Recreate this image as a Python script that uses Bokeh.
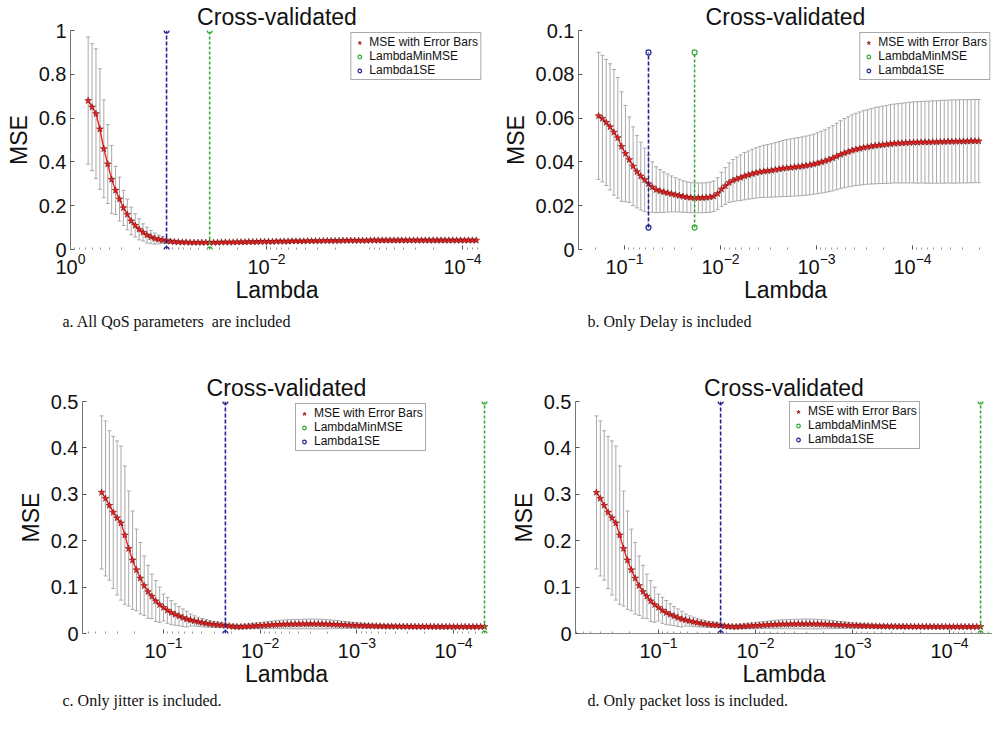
import numpy as np
from bokeh.plotting import figure
from bokeh.models import (Range1d, FixedTicker, CustomJSTickFormatter, Legend,
                          LegendItem, Title)
from bokeh.layouts import column, row
from bokeh.embed import file_html
from bokeh.resources import INLINE

SANS = "Liberation Sans"
SERIF = "Liberation Serif"

# ---------------------------------------------------------------- data
# log10(Lambda) grids of the four lasso fits
log_lam_all = [
    -0.18, -0.22, -0.26, -0.30, -0.34, -0.38, -0.42, -0.46, -0.50, -0.54,
    -0.58, -0.62, -0.66, -0.70, -0.74, -0.78, -0.82, -0.86, -0.90, -0.94,
    -0.98, -1.02, -1.06, -1.10, -1.14, -1.18, -1.22, -1.26, -1.30, -1.34,
    -1.38, -1.42, -1.46, -1.50, -1.54, -1.58, -1.62, -1.66, -1.70, -1.74,
    -1.78, -1.82, -1.86, -1.90, -1.94, -1.98, -2.02, -2.06, -2.10, -2.14,
    -2.18, -2.22, -2.26, -2.30, -2.34, -2.38, -2.42, -2.46, -2.50, -2.54,
    -2.58, -2.62, -2.66, -2.70, -2.74, -2.78, -2.82, -2.86, -2.90, -2.94,
    -2.98, -3.02, -3.06, -3.10, -3.14, -3.18, -3.22, -3.26, -3.30, -3.34,
    -3.38, -3.42, -3.46, -3.50, -3.54, -3.58, -3.62, -3.66, -3.70, -3.74,
    -3.78, -3.82, -3.86, -3.90, -3.94, -3.98, -4.02, -4.06, -4.10, -4.14]
log_lam_delay = [
    -0.73, -0.77, -0.81, -0.85, -0.89, -0.93, -0.97, -1.01, -1.05, -1.09,
    -1.13, -1.17, -1.21, -1.25, -1.29, -1.33, -1.37, -1.41, -1.45, -1.49,
    -1.53, -1.57, -1.61, -1.65, -1.69, -1.73, -1.77, -1.81, -1.85, -1.89,
    -1.93, -1.97, -2.01, -2.05, -2.09, -2.13, -2.17, -2.21, -2.25, -2.29,
    -2.33, -2.37, -2.41, -2.45, -2.49, -2.53, -2.57, -2.61, -2.65, -2.69,
    -2.73, -2.77, -2.81, -2.85, -2.89, -2.93, -2.97, -3.01, -3.05, -3.09,
    -3.13, -3.17, -3.21, -3.25, -3.29, -3.33, -3.37, -3.41, -3.45, -3.49,
    -3.53, -3.57, -3.61, -3.65, -3.69, -3.73, -3.77, -3.81, -3.85, -3.89,
    -3.93, -3.97, -4.01, -4.05, -4.09, -4.13, -4.17, -4.21, -4.25, -4.29,
    -4.33, -4.37, -4.41, -4.45, -4.49, -4.53, -4.57, -4.61, -4.65, -4.69]
log_lam_jitter = [
    -0.36, -0.40, -0.44, -0.48, -0.52, -0.56, -0.60, -0.64, -0.68, -0.72,
    -0.76, -0.80, -0.84, -0.88, -0.92, -0.96, -1.00, -1.04, -1.08, -1.12,
    -1.16, -1.20, -1.24, -1.28, -1.32, -1.36, -1.40, -1.44, -1.48, -1.52,
    -1.56, -1.60, -1.64, -1.68, -1.72, -1.76, -1.80, -1.84, -1.88, -1.92,
    -1.96, -2.00, -2.04, -2.08, -2.12, -2.16, -2.20, -2.24, -2.28, -2.32,
    -2.36, -2.40, -2.44, -2.48, -2.52, -2.56, -2.60, -2.64, -2.68, -2.72,
    -2.76, -2.80, -2.84, -2.88, -2.92, -2.96, -3.00, -3.04, -3.08, -3.12,
    -3.16, -3.20, -3.24, -3.28, -3.32, -3.36, -3.40, -3.44, -3.48, -3.52,
    -3.56, -3.60, -3.64, -3.68, -3.72, -3.76, -3.80, -3.84, -3.88, -3.92,
    -3.96, -4.00, -4.04, -4.08, -4.12, -4.16, -4.20, -4.24, -4.28, -4.32]
log_lam_loss = list(log_lam_jitter)

# cross-validated MSE and its standard error
mse_all = [
    0.68, 0.65, 0.62, 0.55, 0.46, 0.39, 0.32, 0.27, 0.23, 0.19,
    0.16, 0.13, 0.11, 0.092, 0.078, 0.066, 0.057, 0.050, 0.046, 0.043,
    0.040, 0.037, 0.035, 0.034, 0.033, 0.033, 0.032, 0.032, 0.032, 0.032,
    0.032, 0.032, 0.032, 0.032, 0.033, 0.033, 0.033, 0.033, 0.034, 0.034,
    0.034, 0.035, 0.035, 0.035, 0.036, 0.036, 0.036, 0.036, 0.037, 0.037,
    0.037, 0.037, 0.038, 0.038, 0.038, 0.038, 0.039, 0.039, 0.039, 0.039,
    0.040, 0.040, 0.040, 0.040, 0.040, 0.041, 0.041, 0.041, 0.041, 0.041,
    0.041, 0.041, 0.042, 0.042, 0.042, 0.042, 0.042, 0.042, 0.042, 0.042,
    0.042, 0.042, 0.042, 0.042, 0.042, 0.042, 0.042, 0.042, 0.042, 0.042,
    0.042, 0.042, 0.042, 0.042, 0.042, 0.042, 0.042, 0.042, 0.042, 0.042]
se_all = [
    0.29, 0.29, 0.296, 0.275, 0.223, 0.18, 0.155, 0.11, 0.10, 0.08,
    0.07, 0.063, 0.053, 0.048, 0.039, 0.036, 0.030, 0.025, 0.020, 0.016,
    0.012, 0.009, 0.007, 0.006, 0.006, 0.006, 0.005, 0.005, 0.005, 0.005,
    0.005, 0.005, 0.005, 0.005, 0.005, 0.005, 0.005, 0.005, 0.005, 0.005,
    0.005, 0.005, 0.006, 0.006, 0.006, 0.006, 0.006, 0.006, 0.006, 0.006,
    0.006, 0.006, 0.006, 0.006, 0.006, 0.006, 0.006, 0.006, 0.006, 0.006,
    0.006, 0.006, 0.006, 0.006, 0.006, 0.006, 0.006, 0.006, 0.006, 0.006,
    0.007, 0.007, 0.007, 0.007, 0.007, 0.007, 0.007, 0.007, 0.007, 0.007,
    0.007, 0.007, 0.007, 0.007, 0.007, 0.007, 0.007, 0.007, 0.007, 0.007,
    0.007, 0.007, 0.007, 0.007, 0.007, 0.007, 0.007, 0.007, 0.007, 0.007]

mse_delay = [
    0.061, 0.0598, 0.058, 0.056, 0.0535, 0.051, 0.047, 0.0438, 0.041, 0.038,
    0.0355, 0.0335, 0.0318, 0.030, 0.0285, 0.0273, 0.0267, 0.0262, 0.0258, 0.0254,
    0.025, 0.0246, 0.0242, 0.0239, 0.0237, 0.0236, 0.0236, 0.0236, 0.0237, 0.0239,
    0.0243, 0.0255, 0.0275, 0.029, 0.0305, 0.0315, 0.0322, 0.0328, 0.0335, 0.034,
    0.0345, 0.035, 0.0354, 0.0357, 0.0359, 0.0361, 0.0364, 0.0367, 0.037, 0.0372,
    0.0374, 0.0376, 0.0378, 0.038, 0.0383, 0.0386, 0.039, 0.0394, 0.0399, 0.0404,
    0.041, 0.0417, 0.0425, 0.0433, 0.044, 0.0446, 0.0452, 0.0457, 0.0461, 0.0465,
    0.0468, 0.0471, 0.0474, 0.0476, 0.0478, 0.048, 0.0482, 0.0484, 0.0485, 0.0486,
    0.0487, 0.0488, 0.0489, 0.0489, 0.049, 0.049, 0.049, 0.0491, 0.0491, 0.0492,
    0.0492, 0.0493, 0.0493, 0.0493, 0.0494, 0.0494, 0.0494, 0.0495, 0.0495, 0.0495]
se_delay = [
    0.029, 0.0289, 0.0288, 0.0288, 0.0287, 0.0275, 0.025, 0.022, 0.0195, 0.018,
    0.0165, 0.0155, 0.0145, 0.013, 0.0115, 0.0105, 0.0098, 0.0092, 0.0087, 0.0082,
    0.0078, 0.0075, 0.0072, 0.007, 0.0069, 0.0068, 0.0068, 0.0068, 0.0068, 0.0069,
    0.007, 0.0073, 0.0078, 0.0084, 0.009, 0.0096, 0.010, 0.0104, 0.0108, 0.011,
    0.0113, 0.0115, 0.0117, 0.0119, 0.012, 0.0122, 0.0124, 0.0126, 0.0128, 0.013,
    0.0131, 0.0132, 0.0133, 0.0134, 0.0135, 0.0136, 0.0137, 0.0139, 0.0141, 0.0143,
    0.0146, 0.0149, 0.0152, 0.0155, 0.0158, 0.016, 0.0163, 0.0165, 0.0167, 0.0169,
    0.017, 0.0172, 0.0174, 0.0175, 0.0177, 0.0178, 0.0179, 0.018, 0.0181, 0.0182,
    0.0183, 0.0184, 0.0185, 0.0186, 0.0186, 0.0187, 0.0187, 0.0188, 0.0188, 0.0189,
    0.0189, 0.0189, 0.019, 0.019, 0.019, 0.019, 0.019, 0.019, 0.019, 0.019]

mse_jitter = [
    0.304, 0.291, 0.276, 0.261, 0.249, 0.238, 0.212, 0.183, 0.158, 0.137,
    0.119, 0.103, 0.090, 0.080, 0.070, 0.062, 0.056, 0.050, 0.045, 0.041,
    0.0375, 0.034, 0.031, 0.029, 0.027, 0.025, 0.0233, 0.0218, 0.0205, 0.0195,
    0.0187, 0.018, 0.0175, 0.016, 0.015, 0.0145, 0.0145, 0.015, 0.0155, 0.016,
    0.0165, 0.017, 0.0175, 0.018, 0.0185, 0.019, 0.0195, 0.0198, 0.020, 0.020,
    0.0202, 0.0203, 0.0204, 0.0205, 0.0205, 0.0205, 0.0204, 0.0203, 0.0201, 0.0198,
    0.0195, 0.0192, 0.0188, 0.0184, 0.018, 0.0176, 0.0172, 0.0169, 0.0166, 0.0163,
    0.0161, 0.0159, 0.0157, 0.0155, 0.0154, 0.0153, 0.0152, 0.0151, 0.015, 0.015,
    0.0149, 0.0149, 0.0148, 0.0148, 0.0148, 0.0147, 0.0147, 0.0147, 0.0146, 0.0146,
    0.0146, 0.0146, 0.0145, 0.0145, 0.0145, 0.0145, 0.0145, 0.0145, 0.0145, 0.0145]
se_jitter = [
    0.165, 0.167, 0.161, 0.164, 0.166, 0.166, 0.149, 0.124, 0.106, 0.088,
    0.077, 0.064, 0.057, 0.048, 0.044, 0.038, 0.029, 0.028, 0.026, 0.023,
    0.0205, 0.019, 0.017, 0.013, 0.011, 0.010, 0.009, 0.008, 0.007, 0.0065,
    0.006, 0.0055, 0.005, 0.004, 0.004, 0.004, 0.0042, 0.0045, 0.005, 0.0055,
    0.006, 0.0065, 0.007, 0.0075, 0.008, 0.0085, 0.009, 0.0093, 0.0096, 0.0098,
    0.010, 0.0102, 0.0104, 0.0105, 0.0106, 0.0106, 0.0105, 0.0103, 0.010, 0.0096,
    0.009, 0.0085, 0.008, 0.0074, 0.0068, 0.0062, 0.0057, 0.0052, 0.0048, 0.0045,
    0.0042, 0.004, 0.0038, 0.0036, 0.0035, 0.0034, 0.0033, 0.0032, 0.0031, 0.003,
    0.003, 0.003, 0.003, 0.003, 0.003, 0.003, 0.003, 0.003, 0.003, 0.003,
    0.003, 0.003, 0.003, 0.003, 0.003, 0.003, 0.003, 0.003, 0.003, 0.003]

# the packet-loss fit follows the jitter fit point for point
mse_loss = list(mse_jitter)
se_loss = list(se_jitter)

# index of Lambda1SE and LambdaMinMSE in each grid
idx_1se = {"all": 20, "delay": 13, "jitter": 32, "loss": 32}
idx_min = {"all": 31, "delay": 25, "jitter": 99, "loss": 99}
# vertical extent of the two marker lines
vspan = {"all": [0, 1], "delay": [0.01, 0.09], "jitter": [0, 0.5], "loss": [0, 0.5]}

captions = {
    "all": "a. All QoS parameters\u00a0 are included",
    "delay": "b. Only Delay is included",
    "jitter": "c. Only jitter is included.",
    "loss": "d. Only packet loss is included.",
}

# ---------------------------------------------------------------- drawing
ERR = "#a9a9a9"
RED = "#f02020"
BLUE = "#22228f"
GREEN = "#33aa33"

MINOR_LOG = [k * 10.0 ** n for n in range(-6, 1) for k in range(2, 10)]


def panel(key, log_lam, mse, se, width, height, borders, xlog, ylim, yticks,
          xticks, legend_loc, caption_pos, box_lines=False):
    lam = 10.0 ** np.asarray(log_lam)
    mse = np.asarray(mse)
    se = np.asarray(se)
    left, right, top, bottom = borders

    p = figure(width=width, height=height, x_axis_type="log",
               x_range=Range1d(10.0 ** xlog[0], 10.0 ** xlog[1]),
               y_range=Range1d(*ylim),
               output_backend="svg", toolbar_location=None,
               min_border_left=left, min_border_right=right,
               min_border_top=top, min_border_bottom=bottom,
               title="Cross-validated")
    p.background_fill_color = "white"
    p.border_fill_color = "white"
    p.outline_line_color = None
    p.xgrid.visible = False
    p.ygrid.visible = False

    p.title.align = "center"
    p.title.text_font = SANS
    p.title.text_font_size = "23px"
    p.title.text_font_style = "normal"
    p.title.text_color = "#111111"
    p.title.standoff = 1
    p.title.offset = 0

    for ax in (p.xaxis[0], p.yaxis[0]):
        ax.major_label_text_font = SANS
        ax.major_label_text_font_size = "20px"
        ax.major_label_text_color = "#111111"
        ax.axis_label_text_font = SANS
        ax.axis_label_text_font_size = "23px"
        ax.axis_label_text_font_style = "normal"
        ax.axis_label_text_color = "#111111"
        ax.major_tick_in = 4
        ax.major_tick_out = 0
        ax.minor_tick_in = 2
        ax.minor_tick_out = 0
        ax.major_tick_line_color = "#555555"
        ax.minor_tick_line_color = "#999999"

    p.xaxis.ticker = FixedTicker(ticks=xticks, minor_ticks=MINOR_LOG)
    p.xaxis.axis_label = "Lambda"
    p.xaxis.axis_label_standoff = 0
    p.xaxis.major_label_standoff = 3
    p.xaxis.axis_line_color = "#888888" if box_lines else None

    p.yaxis.ticker = FixedTicker(ticks=yticks, minor_ticks=[])
    p.yaxis.formatter = CustomJSTickFormatter(code="return tick.toString();")
    p.yaxis.axis_label = "MSE"
    p.yaxis.axis_label_standoff = 4
    p.yaxis.major_label_standoff = 4
    p.yaxis.axis_line_color = "#777777"

    # error bars with caps
    lo = mse - se
    hi = mse + se
    p.segment(x0=lam, y0=lo, x1=lam, y1=hi, line_color=ERR, line_width=1)
    p.scatter(lam, hi, marker="dash", size=4, line_color=ERR, line_width=1)
    p.scatter(lam, lo, marker="dash", size=4, line_color=ERR, line_width=1)

    # MSE curve
    p.line(lam, mse, line_color=RED, line_width=1.4)
    stars = p.scatter(lam, mse, marker="star", size=7, fill_color=RED,
                      line_color="#7a1010", line_width=0.6)

    # Lambda1SE (blue) and LambdaMinMSE (green)
    ys = vspan[key]
    x1 = lam[idx_1se[key]]
    x2 = lam[idx_min[key]]
    p.line([x1, x1], ys, line_color=BLUE, line_width=1.6, line_dash="4 2")
    blue = p.scatter([x1, x1], ys, marker="circle", size=5, fill_color=None,
                     line_color=BLUE, line_width=1.2)
    p.line([x2, x2], ys, line_color=GREEN, line_width=1.6, line_dash="3 2")
    green = p.scatter([x2, x2], ys, marker="circle", size=5, fill_color=None,
                      line_color=GREEN, line_width=1.2)

    legend = Legend(items=[
        LegendItem(label="MSE with Error Bars", renderers=[stars]),
        LegendItem(label="LambdaMinMSE", renderers=[green]),
        LegendItem(label="Lambda1SE", renderers=[blue]),
    ], location=legend_loc)
    legend.label_text_font = SANS
    legend.label_text_font_size = "12px"
    legend.label_text_line_height = 0.8
    legend.label_text_color = "#111111"
    legend.label_height = 9
    legend.glyph_height = 9
    legend.glyph_width = 12
    legend.label_standoff = 4
    legend.spacing = 0
    legend.padding = 2
    legend.margin = 2
    legend.border_line_color = "#555555"
    legend.border_line_width = 1
    legend.background_fill_color = "white"
    legend.background_fill_alpha = 1
    p.add_layout(legend)

    # caption line under the Lambda label
    offset, standoff = caption_pos
    cap = Title(text=captions[key], align="left", offset=offset,
                standoff=standoff, text_font=SERIF, text_font_size="16px",
                text_font_style="normal", text_color="#111111")
    p.add_layout(cap, "below")
    return p


pa = panel("all", log_lam_all, mse_all, se_all, 496, 372,
           (70, 13, 30, 123), (0.0, -4.214), (0, 1),
           [0, 0.2, 0.4, 0.6, 0.8, 1], [1.0, 1e-2, 1e-4],
           "top_right", (-8, 11))
pb = panel("delay", log_lam_delay, mse_delay, se_delay, 496, 372,
           (82, 0, 30, 118), (-0.521, -4.833), (0, 0.1),
           [0, 0.02, 0.04, 0.06, 0.08, 0.1], [1e-1, 1e-2, 1e-3, 1e-4],
           "top_right", (9, 11))
pc = panel("jitter", log_lam_jitter, mse_jitter, se_jitter, 496, 371,
           (82, 6, 29, 110), (-0.162, -4.382), (0, 0.5),
           [0, 0.1, 0.2, 0.3, 0.4, 0.5], [1e-1, 1e-2, 1e-3, 1e-4],
           (213, 182), (-20, 1))
pd_ = panel("loss", log_lam_loss, mse_loss, se_loss, 496, 371,
            (79, 0, 29, 110), (-0.144, -4.443), (0, 0.5),
            [0, 0.1, 0.2, 0.3, 0.4, 0.5], [1e-1, 1e-2, 1e-3, 1e-4],
            (214, 184), (12, 1), box_lines=True)

layout = column(row(pa, pb), row(pc, pd_))

with open("out.html", "w") as f:
    f.write(file_html(layout, INLINE))
